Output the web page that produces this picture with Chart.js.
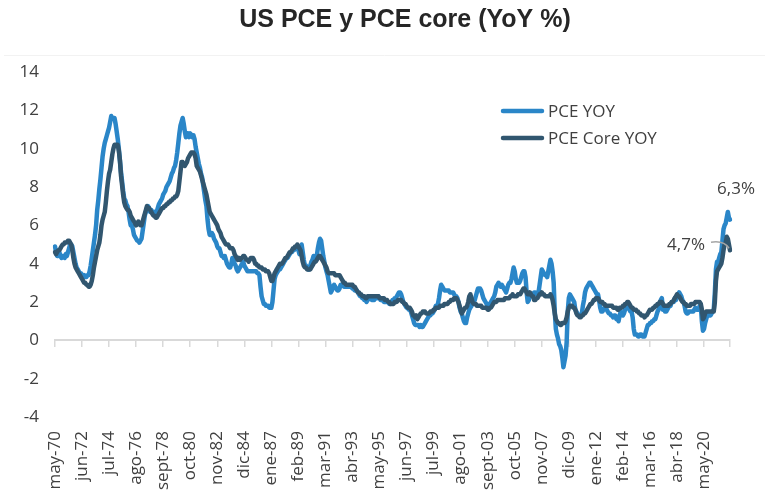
<!DOCTYPE html>
<html>
<head>
<meta charset="utf-8">
<script src="https://cdn.jsdelivr.net/npm/chart.js@4/dist/chart.umd.min.js"></script>
<style>
html,body{margin:0;padding:0;background:#ffffff;}
#wrap{position:relative;width:769px;height:492px;}
</style>
</head>
<body>
<div id="wrap"><canvas id="c" width="769" height="492"></canvas></div>
<script>
// ---- DATA (monthly, May 1970 .. May 2022), YoY % ----
const seriesNames = ['PCE YOY', 'PCE Core YOY'];
const titleText = 'US PCE y PCE core (YoY %)';
const endLabels = ['6,3%', '4,7%'];
const monthNames = ['ene','feb','mar','abr','may','jun','jul','ago','sept','oct','nov','dic'];
const startYear = 1970, startMonth = 4; // May (0-based)
const tickStep = 25;
const yTicks = [-4, -2, 0, 2, 4, 6, 8, 10, 12, 14];

const pceYoY = [
  4.9,4.6,4.4,4.4,4.6,4.4,4.3,4.4,
  4.4,4.3,4.5,4.4,4.6,4.8,5.0,5.0,4.9,4.6,4.3,4.0,
  3.8,3.7,3.6,3.5,3.5,3.4,3.3,3.4,3.3,3.3,3.4,3.4,
  3.6,3.9,4.3,4.7,5.1,5.5,6.0,6.8,7.3,7.9,8.4,9.0,
  9.6,10.0,10.3,10.5,10.7,10.9,11.1,11.4,11.7,11.6,11.6,11.6,
  11.3,10.9,10.5,10.0,9.4,8.8,8.3,7.8,7.4,7.3,7.1,7.0,
  6.7,6.3,6.0,6.0,5.8,5.5,5.4,5.3,5.2,5.2,5.1,5.2,
  5.3,5.7,6.1,6.5,6.7,6.9,7.0,6.9,6.7,6.8,6.7,6.6,
  6.7,6.6,6.7,6.9,7.1,7.2,7.3,7.4,7.6,7.7,7.8,8.0,
  8.1,8.2,8.3,8.5,8.7,8.8,9.0,9.1,9.4,9.8,10.3,10.8,
  11.2,11.4,11.6,11.3,10.9,10.6,10.8,10.8,10.6,10.8,10.7,10.6,
  10.7,10.5,10.1,9.8,9.5,9.2,9.0,8.7,8.5,8.1,7.7,7.3,
  7.0,6.3,5.8,5.5,5.5,5.6,5.5,5.3,5.2,5.1,4.9,4.8,
  4.8,4.6,4.4,4.4,4.3,4.4,4.2,4.0,3.9,3.8,3.8,4.0,
  4.3,4.2,4.0,3.9,3.7,3.6,3.7,3.8,3.9,4.0,4.1,3.9,
  3.8,3.7,3.6,3.6,3.6,3.6,3.6,3.6,3.6,3.6,3.6,3.5,
  3.5,3.4,2.8,2.3,2.1,1.9,1.9,1.8,1.8,1.8,1.7,1.7,
  1.7,2.0,2.6,3.2,3.4,3.5,3.6,3.7,3.7,3.8,3.9,4.0,
  4.1,4.2,4.3,4.3,4.4,4.5,4.6,4.6,4.7,4.7,4.8,4.8,
  4.9,4.7,4.5,4.8,5.0,4.6,4.2,3.9,3.9,3.8,3.7,3.7,
  3.9,4.1,4.2,4.4,4.2,4.2,4.4,4.8,5.1,5.3,5.2,4.8,
  4.4,4.1,3.8,3.6,3.4,3.1,2.8,2.5,2.6,2.8,2.9,2.8,
  2.7,2.6,2.6,2.7,2.9,2.9,2.9,2.8,2.8,2.8,2.8,2.8,
  2.8,2.8,2.8,2.7,2.7,2.6,2.6,2.6,2.5,2.4,2.3,2.3,
  2.2,2.2,2.1,2.1,2.0,2.1,2.2,2.2,2.2,2.1,2.1,2.1,
  2.2,2.2,2.2,2.3,2.2,2.1,2.1,2.1,2.0,2.0,2.0,2.0,
  2.0,1.9,1.9,2.0,2.1,2.1,2.2,2.2,2.3,2.4,2.5,2.5,
  2.4,2.2,2.0,1.9,1.8,1.7,1.7,1.6,1.6,1.5,1.3,1.1,
  0.9,0.8,0.8,0.8,0.8,0.7,0.8,0.7,0.7,0.8,0.9,1.0,
  1.1,1.2,1.3,1.3,1.4,1.4,1.5,1.6,1.8,1.8,1.9,2.2,
  2.6,2.9,2.8,2.7,2.6,2.6,2.6,2.6,2.6,2.5,2.5,2.5,
  2.5,2.4,2.3,2.3,2.2,2.0,1.7,1.5,1.4,1.2,1.0,0.9,
  0.9,1.2,1.4,1.6,1.7,1.8,2.0,2.0,2.1,2.3,2.5,2.7,
  2.7,2.7,2.6,2.4,2.2,2.1,2.0,1.9,1.8,1.8,1.9,2.0,
  2.1,2.2,2.3,2.5,2.8,2.9,3.0,2.9,2.8,2.9,2.8,2.7,
  2.6,2.5,2.7,2.9,3.0,3.0,3.2,3.5,3.8,3.6,3.2,3.0,
  3.0,3.0,3.1,3.3,3.5,3.6,3.6,3.3,2.5,2.0,2.1,2.3,
  2.3,2.3,2.4,2.5,2.5,2.4,2.4,2.5,2.9,3.3,3.7,3.6,
  3.5,3.4,3.4,3.3,3.6,3.9,4.2,4.0,3.6,3.0,1.5,0.6,
  0.3,0.1,-0.2,-0.3,-0.5,-0.9,-1.4,-1.1,-0.8,-0.1,1.5,2.2,
  2.4,2.3,2.2,2.1,2.0,1.6,1.5,1.4,1.3,1.3,1.3,1.4,
  1.8,2.1,2.5,2.7,2.8,2.9,3.0,3.0,2.9,2.8,2.7,2.6,
  2.5,2.4,2.4,2.1,1.7,1.5,1.5,1.6,1.7,1.8,1.6,1.5,
  1.4,1.4,1.3,1.3,1.2,1.3,1.3,1.1,1.1,1.0,1.3,1.5,
  1.4,1.3,1.4,1.6,1.8,1.9,1.8,1.6,1.5,1.5,1.2,0.6,
  0.3,0.3,0.3,0.2,0.2,0.3,0.3,0.2,0.2,0.2,0.4,0.6,
  0.8,0.8,0.9,0.9,1.0,1.0,1.1,1.1,1.3,1.5,1.6,1.9,
  2.1,2.2,1.6,1.7,1.5,1.5,1.6,1.7,1.8,1.8,2.0,2.0,
  2.0,2.2,2.1,2.3,2.4,2.5,2.4,2.3,2.1,2.0,1.8,1.5,
  1.4,1.4,1.5,1.5,1.5,1.5,1.5,1.6,1.7,1.6,1.6,1.6,
  1.8,1.8,1.0,0.5,0.6,0.9,1.1,1.3,1.4,1.3,1.3,1.4,
  1.5,1.6,2.5,3.7,4.1,4.1,4.3,4.5,4.6,5.2,5.8,6.0,
  6.1,6.4,6.7,6.4,6.3
];

const pceCoreYoY = [
  4.6,4.5,4.6,4.7,4.7,4.8,4.9,5.0,
  5.0,5.1,5.1,5.1,5.2,5.2,5.1,5.0,4.7,4.3,4.0,3.8,
  3.7,3.6,3.5,3.4,3.3,3.2,3.1,3.0,3.0,2.9,2.9,2.8,
  2.8,2.9,3.1,3.4,3.8,4.1,4.4,4.7,4.9,5.1,5.5,6.0,
  6.3,6.5,6.7,7.2,7.8,8.3,8.7,8.9,9.3,9.7,10.0,10.2,
  10.2,10.2,10.2,9.9,9.4,8.6,8.1,7.6,7.2,7.0,6.9,6.8,
  6.8,6.7,6.5,6.4,6.3,6.2,6.1,6.0,6.1,6.2,6.1,6.0,
  6.0,6.2,6.4,6.6,6.8,7.0,6.9,6.9,6.8,6.7,6.6,6.5,
  6.5,6.4,6.4,6.5,6.6,6.7,6.8,6.9,6.9,7.0,7.0,7.1,
  7.1,7.2,7.2,7.3,7.3,7.4,7.4,7.5,7.5,7.6,7.8,8.3,
  8.8,9.3,9.3,9.2,9.1,9.2,9.3,9.5,9.6,9.7,9.8,9.8,
  9.8,9.7,9.5,9.1,9.0,8.9,8.8,8.6,8.4,8.2,8.0,7.8,
  7.6,7.3,7.0,6.7,6.6,6.5,6.4,6.3,6.2,6.1,6.0,5.8,
  5.7,5.6,5.4,5.3,5.2,5.1,5.0,5.0,5.0,4.9,4.8,4.8,
  4.8,4.7,4.5,4.4,4.3,4.2,4.3,4.2,4.3,4.3,4.4,4.4,
  4.3,4.2,4.2,4.1,4.2,4.3,4.3,4.3,4.2,4.0,4.0,3.9,
  3.9,3.8,3.8,3.8,3.7,3.7,3.7,3.6,3.6,3.6,3.5,3.3,
  3.1,3.1,3.3,3.5,3.6,3.7,3.8,3.9,4.0,4.0,4.0,4.1,
  4.2,4.3,4.3,4.4,4.5,4.6,4.6,4.7,4.8,4.8,4.9,4.9,
  5.0,4.9,4.8,4.7,4.4,4.1,3.9,3.8,3.8,3.7,3.7,3.7,
  3.7,3.8,3.9,4.0,4.1,4.1,4.2,4.3,4.4,4.4,4.3,4.2,
  4.1,4.0,3.9,3.8,3.6,3.5,3.5,3.5,3.5,3.5,3.5,3.4,
  3.4,3.4,3.4,3.4,3.3,3.2,3.1,3.0,3.0,2.9,2.9,2.9,
  2.9,2.9,2.9,2.9,2.8,2.8,2.7,2.6,2.5,2.5,2.4,2.4,
  2.3,2.3,2.3,2.2,2.2,2.3,2.3,2.3,2.3,2.3,2.3,2.3,
  2.3,2.3,2.3,2.3,2.2,2.2,2.2,2.2,2.2,2.1,2.1,2.1,
  2.0,2.0,1.9,1.9,1.9,1.9,2.0,2.0,2.0,2.1,2.1,2.1,
  2.1,2.0,2.0,1.9,1.9,1.8,1.7,1.7,1.7,1.6,1.5,1.3,
  1.3,1.2,1.3,1.1,1.2,1.3,1.4,1.4,1.5,1.5,1.5,1.4,
  1.4,1.4,1.4,1.5,1.5,1.5,1.6,1.6,1.7,1.7,1.7,1.7,
  1.8,1.8,1.8,1.8,1.9,1.9,1.9,1.9,2.0,2.0,2.1,2.1,
  2.1,2.2,2.2,2.2,2.1,2.0,1.8,1.6,1.4,1.5,1.6,1.7,
  1.7,1.8,2.0,2.3,2.4,2.2,2.0,1.9,1.9,1.9,1.8,1.8,
  1.8,1.8,1.8,1.7,1.7,1.7,1.7,1.7,1.6,1.6,1.7,1.7,
  1.8,1.9,2.0,2.0,2.0,2.1,2.1,2.1,2.1,2.1,2.1,2.1,
  2.2,2.2,2.2,2.2,2.2,2.3,2.3,2.4,2.3,2.3,2.3,2.3,
  2.4,2.4,2.4,2.5,2.6,2.7,2.7,2.6,2.5,2.4,2.4,2.5,
  2.4,2.3,2.3,2.1,2.1,2.2,2.2,2.3,2.4,2.4,2.5,2.4,
  2.4,2.3,2.3,2.3,2.3,2.3,2.4,2.3,2.1,1.8,1.4,1.1,
  1.0,0.9,0.9,0.8,0.8,0.9,0.9,0.9,1.0,1.2,1.5,1.7,
  1.8,1.8,1.8,1.7,1.7,1.6,1.4,1.3,1.3,1.2,1.2,1.3,
  1.3,1.4,1.4,1.5,1.6,1.7,1.8,1.9,1.9,2.0,2.1,2.1,
  2.2,2.2,2.2,2.1,2.0,2.0,2.0,1.9,1.9,1.8,1.8,1.8,
  1.8,1.8,1.8,1.8,1.7,1.7,1.7,1.7,1.6,1.6,1.7,1.7,
  1.7,1.8,1.8,1.9,1.9,2.0,2.0,1.9,1.8,1.7,1.7,1.6,
  1.6,1.6,1.5,1.5,1.4,1.4,1.3,1.3,1.3,1.2,1.3,1.3,
  1.4,1.5,1.6,1.6,1.6,1.7,1.7,1.8,1.8,1.9,1.9,2.0,
  2.0,2.0,1.9,1.8,1.8,1.8,1.8,1.8,1.9,1.9,2.0,2.0,
  2.1,2.2,2.3,2.4,2.3,2.3,2.2,2.1,2.0,2.0,1.9,1.9,
  1.8,1.8,1.8,1.8,1.9,1.9,1.9,1.9,2.0,2.0,2.0,2.0,
  2.0,1.9,1.6,1.1,1.2,1.4,1.5,1.5,1.5,1.5,1.5,1.5,
  1.5,1.5,2.0,3.1,3.6,3.7,3.8,3.9,4.0,4.3,4.7,5.0,
  5.1,5.4,5.3,5.0,4.7
];

// ---- category labels (monthly) ----
const N = pceYoY.length;
const categories = [];
for (let i = 0; i < N; i++) {
  const m = (startMonth + i) % 12;
  const y = startYear + Math.floor((startMonth + i) / 12);
  categories.push(monthNames[m] + '-' + String(y % 100).padStart(2, '0'));
}

// ---- styles ----
const PCE_COLOR = '#2a86c8';
const CORE_COLOR = '#31566f';
const TEXT_COLOR = '#404040';
const AXIS_COLOR = '#d9d9d9';
const TICK_FONT = {family: '"Open Sans", "DejaVu Sans", sans-serif', size: 17};
const LINE_W = 4.5;

const decor = {
  id: 'decor',
  afterDraw(chart) {
    const c = chart.ctx;
    c.save();
    // faint plot frame line at the top
    c.strokeStyle = '#f2f2f2';
    c.lineWidth = 1;
    c.beginPath(); c.moveTo(4, 55.5); c.lineTo(765, 55.5); c.stroke();

    // title
    c.fillStyle = '#262626';
    c.font = 'bold 25px "Liberation Sans", Arial, sans-serif';
    c.textAlign = 'center';
    c.textBaseline = 'middle';
    c.fillText(titleText, 405, 20);

    // legend
    const legendItems = [
      {name: seriesNames[0], color: PCE_COLOR, y: 111},
      {name: seriesNames[1], color: CORE_COLOR, y: 138}
    ];
    c.lineCap = 'round';
    c.font = '17px "Open Sans", sans-serif';
    c.textAlign = 'left';
    legendItems.forEach(it => {
      c.strokeStyle = it.color; c.lineWidth = LINE_W;
      c.beginPath(); c.moveTo(503, it.y); c.lineTo(542, it.y); c.stroke();
      c.fillStyle = TEXT_COLOR;
      c.fillText(it.name, 548, it.y + 1);
    });

    // end-value annotations
    const xs = chart.scales.x, ys = chart.scales.y;
    const last = N - 1;
    const px = xs.getPixelForValue(last);
    const pyP = ys.getPixelForValue(pceYoY[last]);
    const pyC = ys.getPixelForValue(pceCoreYoY[last]);
    c.fillStyle = TEXT_COLOR;
    c.textAlign = 'center';
    c.fillText(endLabels[0], px + 6, pyP - 30);
    c.textAlign = 'right';
    c.fillText(endLabels[1], px - 25, pyC - 5);
    c.strokeStyle = '#a6a6a6'; c.lineWidth = 1.5; c.lineCap = 'butt';
    c.beginPath();
    c.moveTo(px - 19, pyC - 8);
    c.quadraticCurveTo(px - 6, pyC - 10, px - 1, pyC - 2);
    c.stroke();
    c.restore();
  }
};

new Chart(document.getElementById('c').getContext('2d'), {
  type: 'line',
  data: {
    labels: categories,
    datasets: [
      {label: seriesNames[1], data: pceCoreYoY, borderColor: CORE_COLOR, backgroundColor: CORE_COLOR,
       borderWidth: LINE_W, pointRadius: 0, tension: 0, borderJoinStyle: 'round', borderCapStyle: 'round', order: 0},
      {label: seriesNames[0], data: pceYoY, borderColor: PCE_COLOR, backgroundColor: PCE_COLOR,
       borderWidth: LINE_W, pointRadius: 0, tension: 0, borderJoinStyle: 'round', borderCapStyle: 'round', order: 1}
    ]
  },
  options: {
    responsive: false,
    animation: false,
    devicePixelRatio: 1,
    layout: {padding: {top: 72, right: 39, left: 0, bottom: 0}},
    plugins: {legend: {display: false}, title: {display: false}, tooltip: {enabled: false}},
    scales: {
      x: {
        type: 'category',
        position: {y: 0},
        ticks: {display: false, autoSkip: false},
        grid: {
          drawOnChartArea: false, drawTicks: true, tickLength: 6, lineWidth: 1.5,
          color: (ctx) => (ctx.index % tickStep === 0 || ctx.index === N - 1) ? AXIS_COLOR : 'rgba(0,0,0,0)'
        },
        border: {display: true, color: AXIS_COLOR, width: 2}
      },
      x2: {
        type: 'category',
        position: 'bottom',
        grid: {display: false, drawTicks: false},
        border: {display: false},
        ticks: {
          autoSkip: false, maxRotation: 90, minRotation: 90, padding: 14,
          color: TEXT_COLOR, font: TICK_FONT,
          callback: function (value, index) {
            return index % tickStep === 0 ? this.getLabelForValue(value) : null;
          }
        },
        afterFit(scale) { scale.height = 75; }
      },
      y: {
        min: -4, max: 14,
        afterBuildTicks(scale) { scale.ticks = yTicks.map(v => ({value: v})); },
        ticks: {color: TEXT_COLOR, font: TICK_FONT, padding: 16},
        grid: {display: false, drawTicks: false},
        border: {display: false},
        afterFit(scale) { scale.width = 55; }
      }
    }
  },
  plugins: [decor]
});
</script>
</body>
</html>
